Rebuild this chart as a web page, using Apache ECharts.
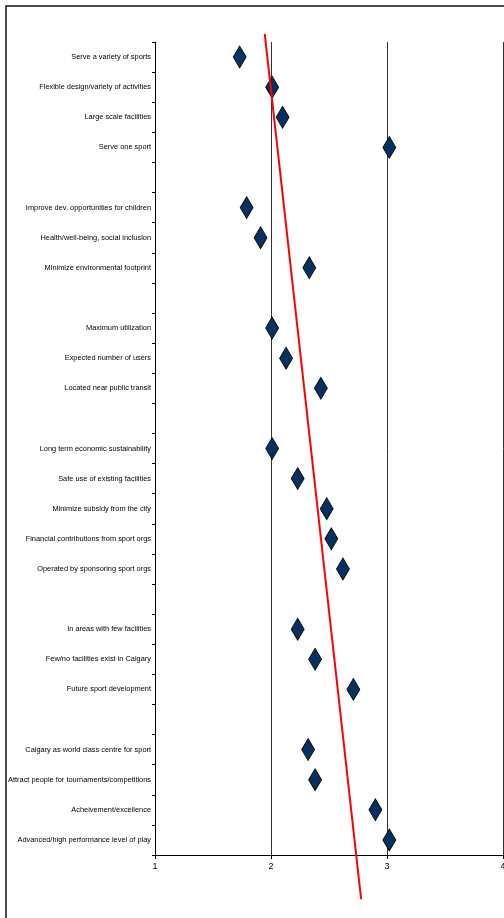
<!DOCTYPE html>
<html><head><meta charset="utf-8">
<script src="https://cdn.jsdelivr.net/npm/echarts@6/dist/echarts.min.js"></script>
<style>html,body{margin:0;padding:0;background:#fff}#c{width:504px;height:918px}</style>
</head><body><div id="c"></div>
<script>
var categories = [
  "Serve a variety of sports","Flexible design/variety of activities","Large scale facilities","Serve one sport","",
  "Improve dev. opportunities for children","Health/well-being, social inclusion","Minimize environmental footprint"," ",
  "Maximum utilization","Expected number of users","Located near public transit","  ",
  "Long term economic sustainability","Safe use of existing facilities","Minimize subsidy from the city","Financial contributions from sport orgs","Operated by sponsoring sport orgs","   ",
  "In areas with few facilities","Few/no facilities exist in Calgary","Future sport development","    ",
  "Calgary as world class centre for sport","Attract people for tournaments/competitions","Acheivement/excellence","Advanced/high performance level of play"
];
var scores = [
  1.73, 2.01, 2.10, 3.02, null,
  1.79, 1.91, 2.33, null,
  2.01, 2.13, 2.43, null,
  2.01, 2.23, 2.48, 2.52, 2.62, null,
  2.23, 2.38, 2.71, null,
  2.32, 2.38, 2.90, 3.02
];
var xTicks = [1, 2, 3, 4];
var trendScores = [1.946, 2.777];
var trendPositions = [-0.77, 27.97];

var scatterData = [];
for (var i = 0; i < categories.length; i++) {
  if (scores[i] !== null) scatterData.push([scores[i], categories[i]]);
}
var trendData = trendScores.map(function (v, k) { return [v, trendPositions[k]]; });

var chart = echarts.init(document.getElementById('c'), null, {renderer: 'canvas'});
var font = "'Liberation Sans',Arial,sans-serif";
chart.setOption({
  animation: false,
  backgroundColor: '#fff',
  graphic: [{
    type: 'rect', shape: {x: 6, y: 6, width: 700, height: 1100},
    style: {fill: 'none', stroke: '#111', lineWidth: 1.5}, silent: true, z: 100
  }],
  grid: {left: 155, top: 42, right: 1, bottom: 63, containLabel: false, outerBoundsMode: 'none'},
  xAxis: {
    type: 'value', min: xTicks[0], max: xTicks[xTicks.length - 1], interval: 1,
    axisLine: {show: true, onZero: false, lineStyle: {color: '#000', width: 1}},
    axisTick: {show: true, length: 4, lineStyle: {color: '#000'}},
    axisLabel: {color: '#000', fontSize: 9, fontFamily: font, margin: 7},
    splitLine: {show: true, lineStyle: {color: '#333', width: 1}}
  },
  yAxis: [{
    type: 'value', inverse: true, min: -0.5, max: categories.length - 0.5, show: false
  }, {
    type: 'category', data: categories, inverse: true, boundaryGap: true, position: 'left',
    axisLine: {show: true, onZero: false, lineStyle: {color: '#000', width: 1}},
    axisTick: {show: true, length: 3, interval: 0, lineStyle: {color: '#000'}},
    axisLabel: {color: '#000', fontSize: 7.4, fontFamily: font, margin: 4, interval: 0},
    splitLine: {show: false}
  }],
  series: [{
    type: 'scatter', yAxisIndex: 1, data: scatterData,
    symbol: 'diamond', symbolSize: [13, 22],
    itemStyle: {color: '#06305e', borderColor: '#000', borderWidth: 0.8, opacity: 1},
    z: 3
  }, {
    type: 'line', yAxisIndex: 0, data: trendData, clip: false,
    symbol: 'none', lineStyle: {color: '#ff0000', width: 2}, z: 4
  }]
});
</script></body></html>
